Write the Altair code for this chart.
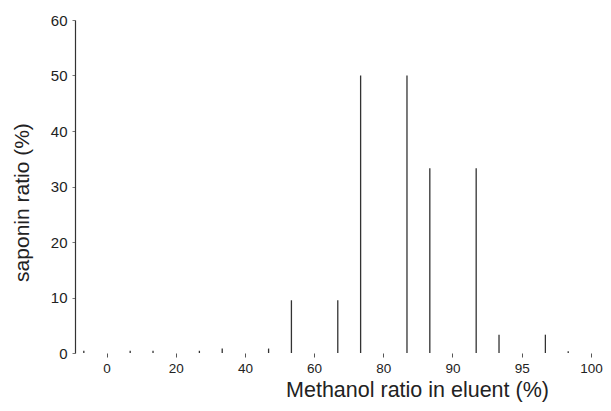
import altair as alt
import pandas as pd

methanol = ["0", "20", "40", "60", "80", "90", "95", "100"]
saponin = [0.4, 0.4, 0.8, 9.5, 50.0, 33.3, 3.3, 0.3]

df = pd.DataFrame({"methanol": methanol, "saponin": saponin})

FONT = "Liberation Sans"

xscale = alt.Scale(domain=methanol, range=[8.82, 539.58], paddingInner=0.33, paddingOuter=0)
yscale = alt.Scale(domain=[0, 60])

xaxis = alt.Axis(
    title="Methanol ratio in eluent (%)",
    domain=False,
    grid=False,
    tickSize=4,
    tickColor="#555",
    labelAngle=0,
    labelFontSize=13.5,
    labelPadding=4,
    labelColor="#222",
    labelFont=FONT,
    titleFont=FONT,
    titleFontSize=21.5,
    titleFontWeight="normal",
    titleColor="#222",
    titleX=342,
    titleY=43,
    titleAlign="center",
    titleBaseline="alphabetic",
)
yaxis = alt.Axis(
    title="saponin ratio (%)",
    values=[0, 10, 20, 30, 40, 50, 60],
    grid=False,
    domain=True,
    domainColor="#333",
    domainWidth=1.2,
    tickSize=3,
    tickColor="#777",
    labelFontSize=15,
    labelPadding=5,
    labelColor="#222",
    labelFont=FONT,
    titleFont=FONT,
    titleFontSize=21,
    titleFontWeight="normal",
    titleColor="#222",
    titleX=-53,
    titleY=182,
    titleAngle=-90,
    titleAlign="center",
    titleBaseline="middle",
)

base = alt.Chart(df)


def edge(pos):
    return base.mark_rule(color="#333", strokeWidth=1.3).encode(
        x=alt.X("methanol:N", sort=methanol, scale=xscale, bandPosition=pos, axis=xaxis),
        y=alt.Y("saponin:Q", scale=yscale, axis=yaxis),
        y2=alt.datum(0),
    )


chart = (
    alt.layer(edge(0), edge(1))
    .properties(
        width=528,
        height=333,
        background="white",
        autosize=alt.AutoSizeParams(type="none"),
        padding={"left": 67, "top": 12, "right": 0, "bottom": 50},
    )
    .configure_view(strokeWidth=0, stroke="transparent")
)

chart.save("out.html", embed_options={"renderer": "svg", "actions": False})
